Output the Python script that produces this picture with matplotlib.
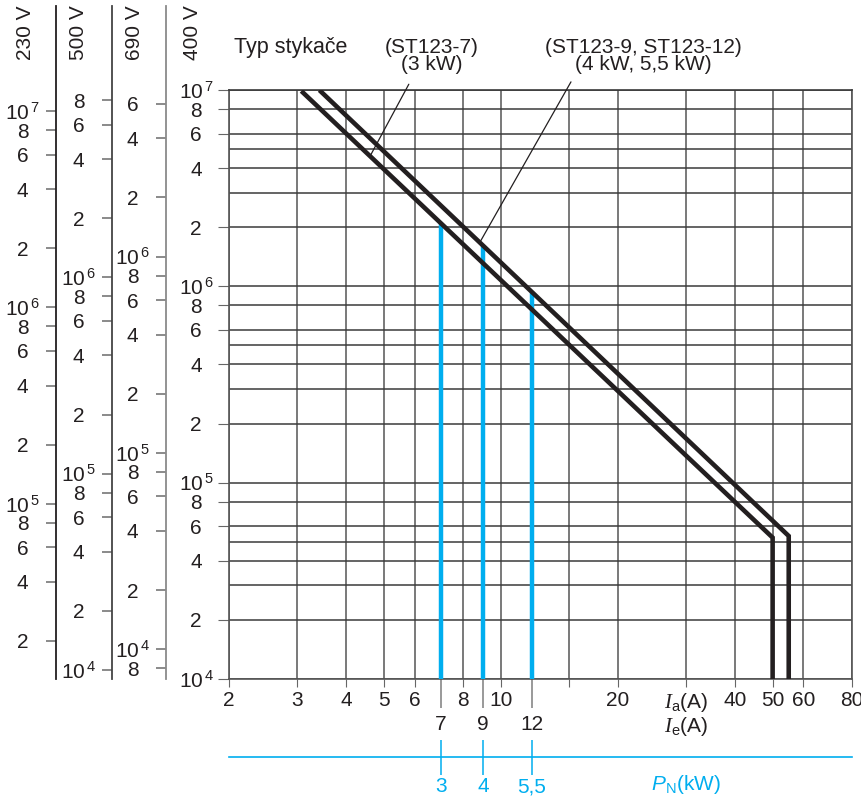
import numpy as np
import matplotlib
matplotlib.use("Agg")
import matplotlib.pyplot as plt
from matplotlib.ticker import FixedLocator, NullLocator

plt.rcParams['font.family'] = ['Liberation Sans', 'DejaVu Sans']
plt.rcParams['font.size'] = 15
plt.rcParams['mathtext.fontset'] = 'custom'
plt.rcParams['mathtext.rm'] = 'Liberation Sans'
plt.rcParams['mathtext.it'] = 'Liberation Serif:italic'
plt.rcParams['mathtext.sf'] = 'Liberation Sans:italic'

# lifetime curves: breaking current Ia (A) -> switching cycles (400 V scale)
curve7_x = [3.1, 50, 50]
curve7_y = [9.7e6, 5.25e4, 1e4]
curve912_x = [3.45, 55, 55]
curve912_y = [9.8e6, 5.35e4, 1e4]

# rated currents Ie (A), lifetime at rated current, rated power PN (kW)
ie_vals = [7, 9, 12]
ie_labels = ['7', '9', '12']
ie_life = [2.1e6, 1.6e6, 9.3e5]
pn_labels = ['3', '4', '5,5']

x_grid = [2, 3, 4, 5, 6, 8, 10, 15, 20, 30, 40, 50, 60, 80]
x_labels = ['2', '3', '4', '5', '6', '8', '10', '', '20',
            r'$I_{\mathrm{a}}$(A)', '40', '50', '60', '80']

# voltage scales (factor against the 400 V scale) and their tick range
voltages = ['230 V', '500 V', '690 V', '400 V']
volt_factor = [1.28, 0.90, 0.705, 1.0]
volt_min = [2e4, 1e4, 8e3, 1e4]
volt_max = [1e7, 8e6, 6e6, 1e7]
mantissas = [1, 2, 4, 6, 8]

W, H = 862, 801
left, right, top, bottom = 229, 852, 90, 679
dec_px = (bottom - top) / 3.0

BLACK = '#231f20'
CYAN = '#00aeef'


def ticks_for(lo, hi):
    out = []
    for e in range(3, 8):
        for m in mantissas:
            v = m * 10.0 ** e
            if lo * 0.999 <= v <= hi * 1.001:
                out.append(v)
    return out


def tick_label(v):
    e = int(np.floor(np.log10(v) + 1e-9))
    m = int(round(v / 10.0 ** e))
    if m == 1:
        return r'10$^{\,%d}$' % e
    return str(m)


fig = plt.figure(figsize=(W / 100, H / 100), dpi=100)
ax = fig.add_axes([left / W, 1 - bottom / H, (right - left) / W, (bottom - top) / H])
ax.set_xscale('log')
ax.set_yscale('log')
ax.set_xlim(2, 80)
ax.set_ylim(1e4, 1e7)

# x axis
ax.xaxis.set_major_locator(FixedLocator(x_grid))
ax.set_xticklabels(x_labels)
ax.set_xticks(ie_vals, ie_labels, minor=True)
ax.tick_params(axis='x', which='major', direction='out', length=8 * 0.72,
               pad=3, color='#666666', labelcolor=BLACK)
ax.tick_params(axis='x', which='minor', direction='out', length=29 * 0.72,
               pad=5, color='#888888', labelcolor=BLACK, width=1.2)
for t, c in zip(ax.xaxis.get_minor_ticks(), ['#888888', BLACK, '#888888']):
    t.tick1line.set_color(c)
ax.grid(axis='x', which='major', color='#6e6e6e', lw=1.3)

# y axis (400 V) with grid at 1..8 and extra lines at 3 and 5
yt = ticks_for(1e4, 1e7)
ax.yaxis.set_major_locator(FixedLocator(yt))
ax.set_yticklabels([tick_label(v) for v in yt], ha='center')
ax.set_yticks([m * 10.0 ** e for e in range(4, 7) for m in (3, 5)], minor=True)
ax.yaxis.set_minor_formatter(plt.NullFormatter())
ax.tick_params(axis='y', which='major', direction='out', length=11 * 0.72,
               pad=22 * 0.72, color='#666666', labelcolor=BLACK)
ax.tick_params(axis='y', which='minor', length=0)
ax.grid(axis='y', which='both', color='#3a3a3a', lw=1.1)

for s in ax.spines.values():
    s.set_color('#555555')
    s.set_linewidth(1.2)
ax.spines['top'].set_color('#3a3a3a')

# rated current lines
ax.vlines(ie_vals, 1e4, ie_life, colors=CYAN, lw=3.2, zorder=3)

# lifetime curves
ax.plot(curve7_x, curve7_y, color=BLACK, lw=3.3, solid_joinstyle='miter', zorder=4)
ax.plot(curve912_x, curve912_y, color=BLACK, lw=3.3, solid_joinstyle='miter', zorder=4)

# leader lines to the type labels
ax.annotate('', xy=(4.61, 4.6e6), xytext=(5.8, 1.07e7), annotation_clip=False,
            arrowprops=dict(arrowstyle='-', lw=0.9, color=BLACK, shrinkA=0, shrinkB=0))
ax.annotate('', xy=(8.84, 1.68e6), xytext=(15.15, 1.1e7), annotation_clip=False,
            arrowprops=dict(arrowstyle='-', lw=0.9, color=BLACK, shrinkA=0, shrinkB=0))

# Ie row label
ax.annotate(r'$I_{\mathrm{e}}$(A)', xy=(30, 0), xycoords=('data', 'axes fraction'),
            xytext=(0, -47), textcoords='offset pixels', ha='center', va='center',
            color=BLACK)

# extra voltage scales on the left
axis_px = [56, 112, 166, 229]
spine_col = [BLACK, '#444444', '#8a8a8a', '#555555']
label_px = [26, 79, 135, 193]
for name, xp, k, lo, hi, sc, lx in zip(voltages, axis_px, volt_factor, volt_min,
                                      volt_max, spine_col, label_px):
    fig.text(lx / W, 1 - 33 / H, name, rotation=90, ha='center', va='center',
             color=BLACK)
    if name == '400 V':
        continue
    a = fig.add_axes([xp / W, 1 - bottom / H, 0.0005, (bottom - 6) / H])
    a.patch.set_visible(False)
    a.set_yscale('log')
    ymin = 1e4 * k
    a.set_ylim(ymin, ymin * 10 ** ((bottom - 6) / dec_px))
    for s in ['top', 'right', 'bottom']:
        a.spines[s].set_visible(False)
    a.spines['left'].set_color(sc)
    a.spines['left'].set_linewidth(1.3)
    a.set_xticks([])
    t = ticks_for(lo, hi)
    a.yaxis.set_major_locator(FixedLocator(t))
    a.yaxis.set_minor_locator(NullLocator())
    a.set_yticklabels([tick_label(v) for v in t], ha='center')
    a.tick_params(axis='y', direction='out', length=10.5 * 0.72,
                  pad=23 * 0.72, color='#777777', labelcolor=BLACK, width=1.2)

# PN scale
apn = fig.add_axes([left / W, 1 - 757 / H, (right - left) / W, 0.0001])
apn.patch.set_visible(False)
apn.set_xscale('log')
apn.set_xlim(2, 80)
apn.set_yticks([])
for s in ['top', 'right', 'left']:
    apn.spines[s].set_visible(False)
apn.spines['bottom'].set_color(CYAN)
apn.spines['bottom'].set_linewidth(1.2)
apn.xaxis.set_major_locator(FixedLocator(ie_vals))
apn.xaxis.set_minor_locator(NullLocator())
apn.set_xticklabels(pn_labels)
apn.tick_params(axis='x', direction='inout', length=35 * 0.72, pad=2,
                color=CYAN, labelcolor=CYAN, width=1.1)
apn.annotate(r'$\mathsf{P}_{\mathrm{N}}$(kW)', xy=(30, 0),
             xycoords=('data', 'axes fraction'), xytext=(0, -28),
             textcoords='offset pixels', ha='center', va='center', color=CYAN)

# header texts
fig.text(234 / W, 1 - 47 / H, 'Typ stykače', ha='left', va='center', color=BLACK,
         fontsize=15.5)
fig.text(432 / W, 1 - 56 / H, '(ST123-7)\n(3 kW)', ha='center', va='center',
         linespacing=0.9, color=BLACK)
fig.text(643 / W, 1 - 56 / H, '(ST123-9, ST123-12)\n(4 kW, 5,5 kW)', ha='center',
         va='center', linespacing=0.9, color=BLACK)

fig.savefig('out.png', dpi=100, facecolor='white')
